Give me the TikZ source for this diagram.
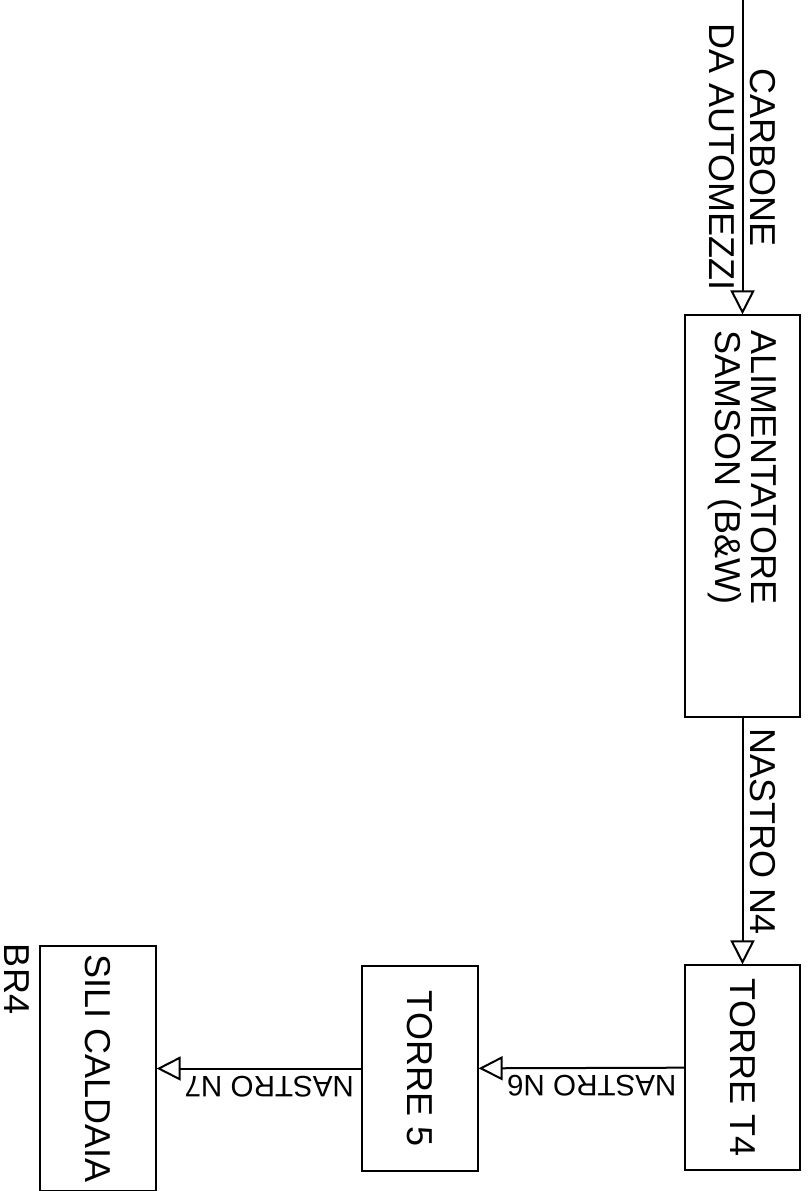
\documentclass[tikz,border=0pt]{standalone}
\usepackage{fontspec}
\setmainfont{Liberation Sans}
\usetikzlibrary{arrows.meta}

\begin{document}
\begin{tikzpicture}[x=0.5pt,y=-0.5pt]
	\tikzset{unit/.style={draw,line width=0.6pt,rotate=-90,inner sep=0pt,font=\fontsize{18}{18}\selectfont}}
	\tikzset{belt/.style={line width=1pt,-{Triangle[open,length=12pt,width=12pt]}}}
	\tikzset{beltlabel/.style={font=\fontsize{18}{18}\selectfont}}
	\tikzset{smalllabel/.style={font=\fontsize{14.8}{16}\selectfont}}
	\useasboundingbox (0,0) rectangle (809,1191);
	\coordinate (feed) at (742.5,0);
	\node[unit,minimum width=201pt,minimum height=57.5pt,text width=186pt,align=left] (alim) at (742.5,516) {ALIMENTATORE\\SAMSON (B\&W)};
	\node[unit,minimum width=102.5pt,minimum height=57.5pt] (t4) at (742.5,1067.5) {TORRE T4};
	\node[unit,minimum width=102.5pt,minimum height=58pt] (torre5) at (420,1068.5) {TORRE 5};
	\node[unit,minimum width=122.5pt,minimum height=58pt] (sili) at (98,1068.5) {SILI CALDAIA};
	\node[beltlabel,rotate=-90,inner sep=0.5pt] (br4) at (17,979) {BR4};
	\draw[belt] (feed) -- (alim) node[midway,above,rotate=-90,beltlabel] {CARBONE} node[midway,below,rotate=-90,beltlabel] {DA AUTOMEZZI};
	\draw[belt] (alim) -- (t4) node[pos=0.46,above,rotate=-90,beltlabel] {NASTRO N4};
	\draw[belt] (t4) -- (torre5) node[pos=0.45,above,rotate=180,smalllabel] {NASTRO N6};
	\draw[belt] (torre5) -- (sili) node[pos=0.45,above,rotate=180,smalllabel] {NASTRO N7};
\end{tikzpicture}
\end{document}
